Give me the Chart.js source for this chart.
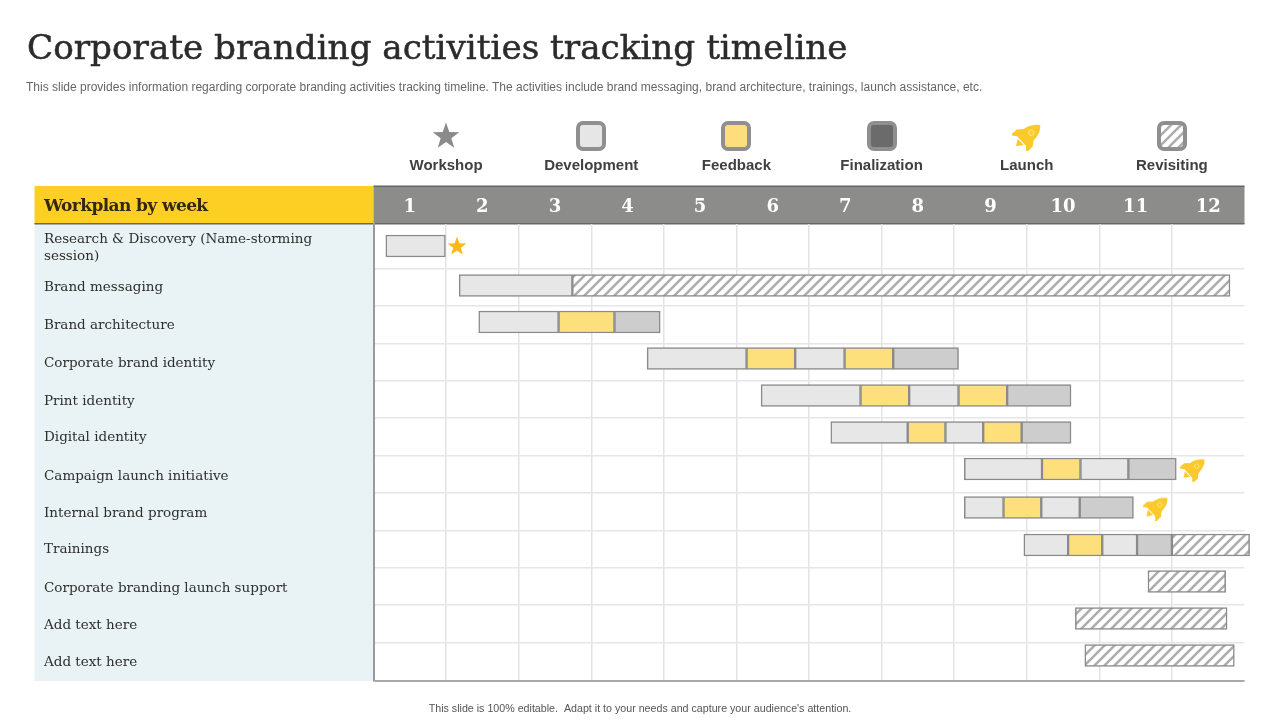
<!DOCTYPE html>
<html>
<head>
<meta charset="utf-8">
<title>Corporate branding activities tracking timeline</title>
<script src="https://cdn.jsdelivr.net/npm/chart.js@4"></script>
<style>
  body { margin: 0; background: #fff; width: 1280px; height: 720px; overflow: hidden; position: relative; }
  canvas#chart { position: absolute; left: 0; top: 0; }
  .t { position: absolute; white-space: nowrap; }
  #title { left: 27px; top: 25px; font: 34.2px/44px "DejaVu Serif", serif; color: #2b2b2b; -webkit-text-stroke: 0.5px #2b2b2b; }
  #sub { left: 26px; top: 79px; font: 12px/16px "Liberation Sans", sans-serif; color: #666; }
  #foot { left: 0; width: 1280px; top: 701px; text-align: center; font: 10.68px/14px "Liberation Sans", sans-serif; color: #555; }
  #head { left: 44px; top: 194px; font: bold 17px/22px "DejaVu Serif", serif; letter-spacing: -0.6px; color: #33290f; }
  .lg { position: absolute; top: 120px; width: 140px; text-align: center; }
  .ic { height: 32px; display: flex; align-items: center; justify-content: center; }
  .lg span { display: block; margin-top: 3px; font: bold 15px/20px "Liberation Sans", sans-serif; color: #404040; }
</style>
</head>
<body>
<canvas id="chart" width="1280" height="720"></canvas>
<div class="t" id="title">Corporate branding activities tracking timeline</div>
<div class="t" id="sub">This slide provides information regarding corporate branding activities tracking timeline. The activities include brand messaging, brand architecture, trainings, launch assistance, etc.</div>
<div class="t" id="foot">This slide is 100% editable. &nbsp;Adapt it to your needs and capture your audience's attention.</div>
<div class="t" id="head">Workplan by week</div>
<div id="legend"></div>
<script>
const weeks = ['1','2','3','4','5','6','7','8','9','10','11','12'];
const rowLabels = [
  ['Research & Discovery (Name-storming', 'session)'],
  'Brand messaging', 'Brand architecture', 'Corporate brand identity', 'Print identity',
  'Digital identity', 'Campaign launch initiative', 'Internal brand program', 'Trainings',
  'Corporate branding launch support', 'Add text here', 'Add text here'
];

// the rows in the picture are not evenly spaced, so y is a plain number scale in row units
const rowCenters = [0.578, 1.615, 2.574, 3.532, 4.504, 5.475, 6.434, 7.445, 8.430, 9.388, 10.360, 11.331];
const rowEdges = [1.169, 2.153, 3.138, 4.123, 5.095, 6.092, 7.064, 8.049, 9.034, 10.005, 11.003, 12];
const labelRows = [0.630, 1.680, 2.678, 3.650, 4.648, 5.619, 6.618, 7.589, 8.560, 9.558, 10.530, 11.526];

// [start week, end week] for each row, null when a row has no such phase
const development1 = [[0.17,0.99],[1.18,2.74],[1.45,2.55],[3.77,5.14],[5.34,6.71],[6.30,7.36],[8.14,9.21],[8.14,8.68],[8.96,9.57],null,null,null];
const feedback1 = [null,null,[2.55,3.32],[5.14,5.81],[6.71,7.38],[7.36,7.88],[9.21,9.74],[8.68,9.20],[9.57,10.04],null,null,null];
const development2 = [null,null,null,[5.81,6.49],[7.38,8.06],[7.88,8.40],[9.74,10.40],[9.20,9.73],[10.04,10.52],null,null,null];
const feedback2 = [null,null,null,[6.49,7.16],[8.06,8.73],[8.40,8.93],null,null,null,null,null,null];
const finalization = [null,null,[3.32,3.95],[7.16,8.06],[8.73,9.61],[8.93,9.61],[10.40,11.06],[9.73,10.47],[10.52,11.00],null,null,null];
const revisiting = [null,[2.74,11.80],null,null,null,null,null,null,[11.00,12.07],[10.67,11.74],[9.67,11.76],[9.80,11.86]];

const workshopMarks = [{x: 1.15, y: 0.578}];
const launchMarks = [{x: 11.29, y: 6.434}, {x: 10.78, y: 7.445}];

const legendItems = ['Workshop', 'Development', 'Feedback', 'Finalization', 'Launch', 'Revisiting'];

function hatchTile() {
  const c = document.createElement('canvas');
  c.width = 10; c.height = 10;
  const g = c.getContext('2d');
  g.fillStyle = '#fff';
  g.fillRect(0, 0, 10, 10);
  g.strokeStyle = '#adadad';
  g.lineWidth = 2.6;
  g.beginPath();
  g.moveTo(-2, 2); g.lineTo(2, -2);
  g.moveTo(-2, 12); g.lineTo(12, -2);
  g.moveTo(8, 12); g.lineTo(12, 8);
  g.stroke();
  return c;
}
const hatch = document.createElement('canvas').getContext('2d').createPattern(hatchTile(), 'repeat');

function starIcon(size, color) {
  const c = document.createElement('canvas');
  c.width = c.height = size;
  const g = c.getContext('2d');
  g.fillStyle = color;
  g.beginPath();
  for (let i = 0; i < 10; i++) {
    const r = (i % 2 ? 0.2 : 0.5) * size;
    const a = -Math.PI / 2 + i * Math.PI / 5;
    g.lineTo(size / 2 + r * Math.cos(a), size / 2 + 0.5 + r * Math.sin(a));
  }
  g.closePath();
  g.fill();
  return c;
}

function rocketIcon(size, color) {
  const c = document.createElement('canvas');
  c.width = c.height = size;
  const g = c.getContext('2d');
  const s = size / 28;
  g.translate(size / 2, size / 2);
  g.rotate(Math.PI / 3.8);
  g.scale(s, s);
  g.fillStyle = color;
  // body
  g.beginPath();
  g.moveTo(1, -16);
  g.bezierCurveTo(8, -10, 8, 0, 6, 7);
  g.lineTo(-6, 7);
  g.bezierCurveTo(-8, 0, -7, -10, 1, -16);
  g.fill();
  // fins
  g.beginPath();
  g.moveTo(-6, -3); g.lineTo(-11, 3); g.lineTo(-11, 11); g.lineTo(-5, 6);
  g.closePath(); g.fill();
  g.beginPath();
  g.moveTo(6, -3); g.lineTo(11, 3); g.lineTo(11, 11); g.lineTo(5, 6);
  g.closePath(); g.fill();
  // flame
  g.beginPath();
  g.moveTo(-4, 8); g.lineTo(4, 8); g.lineTo(0, 14);
  g.closePath(); g.fill();
  // window
  g.strokeStyle = '#fde68a';
  g.lineWidth = 1;
  g.beginPath();
  g.arc(0.5, -5, 2.4, 0, Math.PI * 2);
  g.stroke();
  return c;
}

function swatchIcon(fill) {
  const c = document.createElement('canvas');
  c.width = c.height = 32;
  const g = c.getContext('2d');
  g.beginPath();
  g.roundRect(3, 3, 26, 26, 5);
  g.fillStyle = fill === 'hatch' ? g.createPattern(hatchTile(), 'repeat') : fill;
  g.fill();
  g.strokeStyle = '#8f8f8f';
  g.lineWidth = 4;
  g.stroke();
  return c;
}

const legendIcons = [
  starIcon(28, '#8a8a8a'), swatchIcon('#e6e6e6'), swatchIcon('#fede7c'),
  swatchIcon('#6b6b6b'), rocketIcon(30, '#fcc92b'), swatchIcon('hatch')
];
const legendCenters = [1, 3, 5, 7, 9, 11];
legendItems.forEach(function (name, i) {
  const d = document.createElement('div');
  d.className = 'lg';
  d.style.left = (373.5 + legendCenters[i] * 72.58 - 70) + 'px';
  const box = document.createElement('div');
  box.className = 'ic';
  box.appendChild(legendIcons[i]);
  d.appendChild(box);
  const s = document.createElement('span');
  s.textContent = name;
  d.appendChild(s);
  document.getElementById('legend').appendChild(d);
});

function bars(label, segments, color) {
  return {
    label: label,
    data: segments.map((s, i) => s ? {x: s, y: rowCenters[i]} : null).filter(Boolean),
    backgroundColor: color,
    borderColor: '#8a8a8a',
    borderWidth: 1.5,
    borderSkipped: false,
    barThickness: 22,
    grouped: false,
    clip: false
  };
}

function marks(label, points, icon) {
  return {
    type: 'scatter',
    label: label,
    indexAxis: 'x',
    data: points,
    pointStyle: icon,
    clip: false
  };
}

// coloured bands behind the table
const tableBands = {
  id: 'tableBands',
  beforeDraw(chart) {
    const g = chart.ctx, a = chart.chartArea;
    g.save();
    g.fillStyle = '#fdcf24';
    g.fillRect(34.5, 186, a.left - 34.5, a.top - 186);
    g.fillStyle = '#8c8c8a';
    g.fillRect(a.left, 186, a.right - a.left, a.top - 186);
    g.fillStyle = '#e9f3f5';
    g.fillRect(34.5, a.top, a.left - 34.5, a.bottom - a.top);
    g.fillStyle = '#666';
    g.fillRect(a.left, 185.5, a.right - a.left, 1.5);
    g.fillRect(34.5, a.top - 1, a.right - 34.5, 1.5);
    g.restore();
  }
};

new Chart(document.getElementById('chart'), {
  type: 'bar',
  plugins: [tableBands],
  data: {
    datasets: [
      bars('Development', development1, '#e7e7e7'),
      bars('Feedback', feedback1, '#fde07c'),
      bars('Development', development2, '#e7e7e7'),
      bars('Feedback', feedback2, '#fde07c'),
      bars('Finalization', finalization, '#cdcdcd'),
      bars('Revisiting', revisiting, hatch),
      marks('Workshop', workshopMarks, starIcon(20, '#fdb913')),
      marks('Launch', launchMarks, rocketIcon(26, '#fcc92b'))
    ]
  },
  options: {
    indexAxis: 'y',
    responsive: false,
    animation: false,
    layout: { padding: { left: 44, right: 35.5, top: 186, bottom: 39 } },
    plugins: { legend: { display: false }, tooltip: { enabled: false } },
    scales: {
      x: {
        type: 'linear', position: 'top', min: 0, max: 12,
        ticks: { display: false, stepSize: 1 },
        grid: {
          color: c => c.tick && c.tick.value === 12 ? 'transparent' : '#e3e3e3',
          lineWidth: 1.5, drawTicks: false
        },
        border: { display: false },
        afterFit(s) { s.height = 0; }
      },
      xTop: {
        type: 'category', position: 'top', labels: weeks, offset: true,
        ticks: { color: '#fff', font: { family: 'DejaVu Serif', size: 18, weight: 'bold' }, padding: 6, maxRotation: 0, autoSkip: false },
        grid: { display: false, drawTicks: false },
        border: { display: false },
        afterFit(s) { s.height = 38; }
      },
      y: {
        type: 'linear', position: 'left', reverse: true, min: 0, max: 12, offset: false,
        afterBuildTicks(s) { s.ticks = rowEdges.map(v => ({value: v})); },
        ticks: { display: false },
        grid: {
          offset: false,
          drawTicks: false,
          color: c => c.tick && c.tick.value === 12 ? '#a9a9a9' : '#e6e6e6',
          lineWidth: c => c.tick && c.tick.value === 12 ? 2 : 1.5
        },
        border: { display: true, color: '#999', width: 2 },
        afterFit(s) { s.width = 0; }
      },
      yLabels: {
        type: 'linear', position: 'left', reverse: true, min: 0, max: 12, offset: false,
        afterBuildTicks(s) { s.ticks = labelRows.map(v => ({value: v})); },
        ticks: {
          autoSkip: false, crossAlign: 'far', color: '#2e2e2e',
          font: { family: 'DejaVu Serif', size: 13.5, lineHeight: 1.3 },
          callback: (v, i) => rowLabels[i]
        },
        grid: { display: false },
        border: { display: false },
        afterFit(s) { s.width = 329.5; }
      }
    }
  }
});
</script>
</body>
</html>
